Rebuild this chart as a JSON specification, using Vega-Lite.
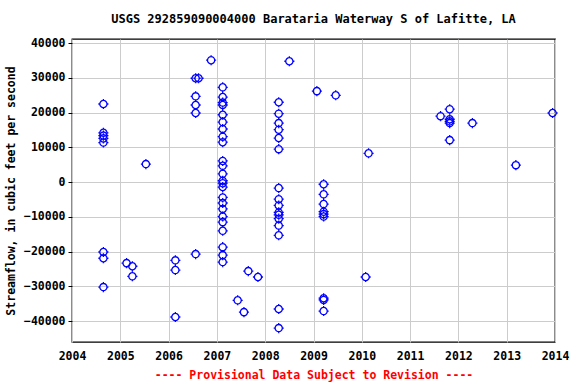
{
  "$schema": "https://vega.github.io/schema/vega-lite/v6.json",
  "width": 483,
  "height": 303,
  "autosize": "none",
  "padding": {"left": 72, "top": 39, "right": 21, "bottom": 42},
  "background": "white",
  "title": {
    "text": "USGS 292859090004000 Barataria Waterway S of Lafitte, LA",
    "font": "DejaVu Sans Mono",
    "fontWeight": "bold",
    "fontSize": 12,
    "color": "black",
    "anchor": "middle",
    "offset": 11
  },
  "data": {
    "values": [
      {"t": 2004.65, "q": 22500}, {"t": 2004.65, "q": 14200}, {"t": 2004.65, "q": 13400}, {"t": 2004.65, "q": 12600}, {"t": 2004.65, "q": 11400},
      {"t": 2004.65, "q": -20100}, {"t": 2004.65, "q": -21900}, {"t": 2004.65, "q": -30200},
      {"t": 2005.13, "q": -23300},
      {"t": 2005.25, "q": -24200}, {"t": 2005.25, "q": -27100},
      {"t": 2005.53, "q": 5200},
      {"t": 2006.14, "q": -22500}, {"t": 2006.14, "q": -25300}, {"t": 2006.14, "q": -38800},
      {"t": 2006.56, "q": 29900}, {"t": 2006.56, "q": 24700}, {"t": 2006.56, "q": 22200}, {"t": 2006.56, "q": 19900}, {"t": 2006.56, "q": -20700},
      {"t": 2006.62, "q": 29900},
      {"t": 2006.88, "q": 35100},
      {"t": 2007.12, "q": 27300}, {"t": 2007.12, "q": 24500}, {"t": 2007.12, "q": 22900}, {"t": 2007.12, "q": 22200}, {"t": 2007.12, "q": 19400},
      {"t": 2007.12, "q": 17300}, {"t": 2007.12, "q": 15300}, {"t": 2007.12, "q": 13100}, {"t": 2007.12, "q": 11500}, {"t": 2007.12, "q": 6100},
      {"t": 2007.12, "q": 4700}, {"t": 2007.12, "q": 2400}, {"t": 2007.12, "q": 400}, {"t": 2007.12, "q": -300}, {"t": 2007.12, "q": -1400},
      {"t": 2007.12, "q": -4400}, {"t": 2007.12, "q": -6000}, {"t": 2007.12, "q": -7700}, {"t": 2007.12, "q": -9900}, {"t": 2007.12, "q": -11500},
      {"t": 2007.12, "q": -14000}, {"t": 2007.12, "q": -18700}, {"t": 2007.12, "q": -21000}, {"t": 2007.12, "q": -23000},
      {"t": 2007.43, "q": -34000},
      {"t": 2007.56, "q": -37400},
      {"t": 2007.65, "q": -25600},
      {"t": 2007.85, "q": -27300},
      {"t": 2008.28, "q": 23000}, {"t": 2008.28, "q": 19700}, {"t": 2008.28, "q": 17000}, {"t": 2008.28, "q": 15100}, {"t": 2008.28, "q": 12700},
      {"t": 2008.28, "q": 9500}, {"t": 2008.28, "q": -1700}, {"t": 2008.28, "q": -4900}, {"t": 2008.28, "q": -6700}, {"t": 2008.28, "q": -8700},
      {"t": 2008.28, "q": -9400}, {"t": 2008.28, "q": -10500}, {"t": 2008.28, "q": -12500}, {"t": 2008.28, "q": -15300}, {"t": 2008.28, "q": -36500},
      {"t": 2008.28, "q": -42000},
      {"t": 2008.5, "q": 34800},
      {"t": 2009.07, "q": 26200},
      {"t": 2009.21, "q": -600}, {"t": 2009.21, "q": -3500}, {"t": 2009.21, "q": -6300}, {"t": 2009.21, "q": -8500}, {"t": 2009.21, "q": -9200},
      {"t": 2009.21, "q": -9900}, {"t": 2009.21, "q": -33400}, {"t": 2009.21, "q": -33900}, {"t": 2009.21, "q": -37100},
      {"t": 2009.46, "q": 25000},
      {"t": 2010.08, "q": -27300},
      {"t": 2010.14, "q": 8300},
      {"t": 2011.63, "q": 19000},
      {"t": 2011.82, "q": 21000}, {"t": 2011.82, "q": 18100}, {"t": 2011.82, "q": 17500}, {"t": 2011.82, "q": 17000}, {"t": 2011.82, "q": 12100},
      {"t": 2012.29, "q": 17000},
      {"t": 2013.19, "q": 4900},
      {"t": 2013.95, "q": 19900}
    ]
  },
  "mark": {
    "type": "point",
    "shape": "M1,0A1,1 0 1,1 -1,0A1,1 0 1,1 1,0ZM0,-1V-1.4M0,1V1.4M-1,0H-1.4M1,0H1.4",
    "size": 52,
    "filled": false,
    "stroke": "#0000ff",
    "strokeWidth": 1.3,
    "opacity": 1
  },
  "encoding": {
    "x": {
      "field": "t",
      "type": "quantitative",
      "scale": {"domain": [2004, 2014], "nice": false, "zero": false},
      "axis": {
        "values": [2004, 2005, 2006, 2007, 2008, 2009, 2010, 2011, 2012, 2013, 2014],
        "format": "d",
        "title": "---- Provisional Data Subject to Revision ----",
        "titleColor": "#ff0000",
        "titleFont": "DejaVu Sans Mono",
        "titleFontWeight": "bold",
        "titleFontSize": 11.5,
        "titlePadding": 8,
        "labelFont": "DejaVu Sans Mono",
        "labelFontWeight": "bold",
        "labelFontSize": 11.5,
        "labelColor": "black",
        "labelPadding": 8,
        "labelFlush": false,
        "ticks": false,
        "domain": false,
        "grid": true,
        "gridColor": "#cccccc",
        "gridWidth": 1
      }
    },
    "y": {
      "field": "q",
      "type": "quantitative",
      "scale": {"domain": [-46000, 41200], "nice": false, "zero": false},
      "axis": {
        "values": [-40000, -30000, -20000, -10000, 0, 10000, 20000, 30000, 40000],
        "format": "d",
        "title": "Streamflow, in cubic feet per second",
        "titleColor": "black",
        "titleFont": "DejaVu Sans Mono",
        "titleFontWeight": "bold",
        "titleFontSize": 11.5,
        "titlePadding": 7,
        "labelFont": "DejaVu Sans Mono",
        "labelFontWeight": "bold",
        "labelFontSize": 11.5,
        "labelColor": "black",
        "labelPadding": 3,
        "ticks": true,
        "tickSize": 4,
        "tickColor": "black",
        "domain": false,
        "grid": true,
        "gridColor": "#cccccc",
        "gridWidth": 1
      }
    }
  },
  "config": {
    "view": {"stroke": "black", "strokeWidth": 1.3}
  }
}
